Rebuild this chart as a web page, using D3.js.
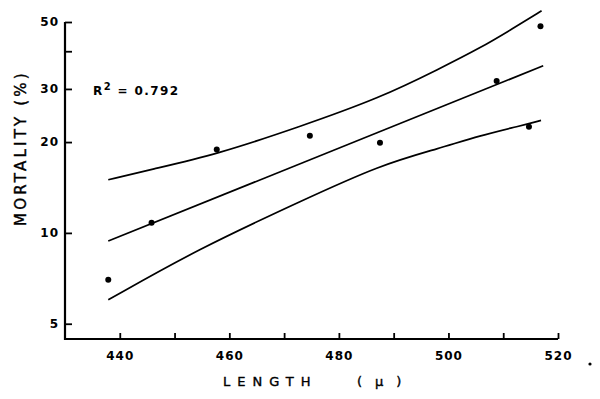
<!DOCTYPE html>
<html><head><meta charset="utf-8">
<script src="https://cdn.jsdelivr.net/npm/d3@7"></script>
<style>body{margin:0;background:#fff}svg{display:block}</style>
</head><body>
<script>
// ---- data ----
const xDomain = [430, 520];
const yDomain = [4.45, 50];
const xTicks = [440, 450, 460, 470, 480, 490, 500, 510, 520];
const xTickLabels = [440, 460, 480, 500, 520];
const yTicks = [5, 10, 20, 30, 40, 50];
const yTickLabels = [5, 10, 20, 30, 50];
const ptLength = [437.9, 445.8, 457.7, 474.7, 487.5, 508.8, 514.7, 516.8];
const ptMortality = [7.0, 10.8, 18.9, 21.0, 19.9, 31.9, 22.5, 48.4];
const fitLength = [437.9, 517.3];
const fitMortality = [9.4, 35.8];
const upperLength = [437.9, 445.5, 457.7, 472.9, 487.5, 498.5, 505.7, 511.8, 517.0];
const upperMortality = [15.0, 16.2, 18.2, 22.5, 28.0, 35.1, 40.9, 47.6, 54.5];
const lowerLength = [437.9, 454.6, 472.9, 487.5, 498.5, 505.7, 513.0, 516.9];
const lowerMortality = [6.0, 8.9, 12.7, 16.8, 19.1, 21.0, 22.6, 23.6];
const rSquared = "0.792";

// ---- drawing ----
const W = 600, H = 399;
const svg = d3.select("body").append("svg").attr("width", W).attr("height", H);
const x = d3.scaleLinear().domain(xDomain).range([65, 558]);
const y = d3.scaleLog().domain(yDomain).range([339, 22]);
const font = "DejaVu Sans, sans-serif";

// axes
const xAxis = d3.axisBottom(x).tickValues(xTicks).tickSizeInner(-6).tickSizeOuter(0)
  .tickFormat(d => xTickLabels.includes(d) ? d : "");
const gx = svg.append("g").attr("transform", "translate(0,339)").call(xAxis);
gx.select(".domain").attr("stroke-width", 2.2).attr("d", `M65,0H${x(520)}`);
gx.selectAll(".tick line").attr("stroke-width", 1.8);
gx.selectAll(".tick text").attr("y", 12).attr("font-family", font).attr("font-size", 12)
  .attr("font-weight", "bold").attr("letter-spacing", 1).attr("fill", "#000");

const yAxis = d3.axisLeft(y).tickValues(yTicks).tickSizeInner(-7).tickSizeOuter(0)
  .tickFormat(d => yTickLabels.includes(d) ? d : "");
const gy = svg.append("g").attr("transform", "translate(65,0)").call(yAxis);
gy.select(".domain").attr("stroke-width", 2.2).attr("d", `M0,${y(50)}V340`);
gy.selectAll(".tick line").attr("stroke-width", 1.8);
gy.selectAll(".tick text").attr("x", -6).attr("font-family", font).attr("font-size", 12)
  .attr("font-weight", "bold").attr("letter-spacing", 1).attr("fill", "#000");

// lines
const ln = d3.line().x(d => x(d[0])).y(d => y(d[1])).curve(d3.curveBasis);
const lines = [
  d3.zip(fitLength, fitMortality),
  d3.zip(upperLength, upperMortality),
  d3.zip(lowerLength, lowerMortality)
];
svg.selectAll("path.band").data(lines).join("path").attr("class", "band")
  .attr("d", ln).attr("fill", "none").attr("stroke", "#000").attr("stroke-width", 1.7);

// points
svg.selectAll("circle.pt").data(d3.zip(ptLength, ptMortality)).join("circle").attr("class", "pt")
  .attr("cx", d => x(d[0])).attr("cy", d => y(d[1])).attr("r", 3).attr("fill", "#000");

// texts
const rt = svg.append("text").attr("x", 93).attr("y", 95).attr("font-family", font)
  .attr("font-size", 12).attr("font-weight", "bold").attr("letter-spacing", 1.4).attr("fill", "#000");
rt.append("tspan").text("R");
rt.append("tspan").attr("dy", -5).attr("font-size", 10).text("2");
rt.append("tspan").attr("dy", 5).text(" = " + rSquared);

svg.append("text").attr("transform", "translate(26,148) rotate(-90)").attr("text-anchor", "middle")
  .attr("font-family", font).attr("font-size", 15).attr("letter-spacing", 3.2).attr("fill", "#000")
  .attr("stroke", "#000").attr("stroke-width", 0.4)
  .text("MORTALITY (%)");

svg.append("text").attr("x", 223).attr("y", 386).attr("font-family", font)
  .attr("font-size", 13).attr("letter-spacing", 7).attr("fill", "#000")
  .attr("stroke", "#000").attr("stroke-width", 0.4).text("LENGTH");
svg.append("text").attr("x", 357).attr("y", 386).attr("font-family", font)
  .attr("font-size", 13).attr("letter-spacing", 13).attr("fill", "#000")
  .attr("stroke", "#000").attr("stroke-width", 0.4).text("(μ)");
svg.append("circle").attr("cx", 590).attr("cy", 364).attr("r", 1.6).attr("fill", "#000");
</script>
</body></html>
